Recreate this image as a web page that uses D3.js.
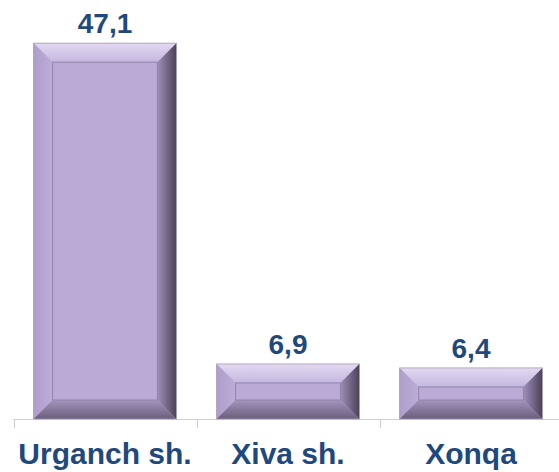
<!DOCTYPE html>
<html>
<head>
<meta charset="utf-8">
<script src="https://cdn.jsdelivr.net/npm/d3@7"></script>
<style>
  html, body { margin: 0; padding: 0; background: #fff; }
  text { font-family: "Liberation Sans", Arial, sans-serif; font-weight: bold; }
</style>
</head>
<body>
<div id="chart"></div>
<script>
var categories = ["Urganch sh.", "Xiva sh.", "Xonqa"];
var values = [47.1, 6.9, 6.4];
var valueLabels = ["47,1", "6,9", "6,4"];

var width = 559;
var height = 472;
var axisY = 419;
var bevel = 19;
var textColour = "#1F497D";

var svg = d3.select("#chart").append("svg")
  .attr("width", width)
  .attr("height", height);

var defs = svg.append("defs");

function grad(id, x1, y1, x2, y2, c1, c2) {
  var g = defs.append("linearGradient")
    .attr("id", id)
    .attr("x1", x1).attr("y1", y1)
    .attr("x2", x2).attr("y2", y2);
  g.append("stop").attr("offset", "0%").attr("stop-color", c1);
  g.append("stop").attr("offset", "100%").attr("stop-color", c2);
}

grad("bevTop", 0, 0, 0, 1, "#E2D9F1", "#C5B7E0");
grad("bevLeft", 0, 0, 1, 0, "#AE9ECB", "#BCACD7");
grad("bevRight", 0, 0, 1, 0, "#9F8FB9", "#4B4156");
grad("bevBottom", 0, 0, 0, 1, "#A394BD", "#6A5E7C");

var x = d3.scaleBand()
  .domain(categories)
  .range([13.5, 562.5])
  .paddingInner(0.22)
  .paddingOuter(0.11);

var y = d3.scaleLinear()
  .domain([0, 50])
  .range([axisY, 20]);

// axis line + ticks at the category boundaries
var gap = (x.step() - x.bandwidth()) / 2;
svg.append("line")
  .attr("x1", 13).attr("x2", width)
  .attr("y1", axisY + 0.5).attr("y2", axisY + 0.5)
  .attr("stroke", "#D0D0D0").attr("stroke-width", 1.2);

svg.selectAll(".tick")
  .data(categories)
  .enter()
  .append("line")
  .attr("class", "tick")
  .attr("x1", function (d) { return Math.round(x(d) - gap) + 0.5; })
  .attr("x2", function (d) { return Math.round(x(d) - gap) + 0.5; })
  .attr("y1", axisY)
  .attr("y2", axisY + 9)
  .attr("stroke", "#D0D0D0").attr("stroke-width", 1.2);

var data = categories.map(function (c, i) {
  return { name: c, value: values[i], label: valueLabels[i] };
});

var bar = svg.selectAll(".bar")
  .data(data)
  .enter()
  .append("g")
  .attr("class", "bar");

function pts(a) {
  return a.map(function (p) { return p.join(","); }).join(" ");
}

bar.each(function (d) {
  var g = d3.select(this);
  var x0 = x(d.name), x1 = x0 + x.bandwidth();
  var y0 = y(d.value), y1 = axisY;
  var b = Math.min(bevel, (y1 - y0) / 2 - 2);

  g.append("rect")
    .attr("x", x0).attr("y", y0)
    .attr("width", x1 - x0).attr("height", y1 - y0)
    .attr("fill", "#BBAAD6");

  g.append("polygon")
    .attr("points", pts([[x0, y0], [x1, y0], [x1 - b, y0 + b], [x0 + b, y0 + b]]))
    .attr("fill", "url(#bevTop)");
  g.append("polygon")
    .attr("points", pts([[x0, y0], [x0 + b, y0 + b], [x0 + b, y1 - b], [x0, y1]]))
    .attr("fill", "url(#bevLeft)");
  g.append("polygon")
    .attr("points", pts([[x1, y0], [x1, y1], [x1 - b, y1 - b], [x1 - b, y0 + b]]))
    .attr("fill", "url(#bevRight)");
  g.append("polygon")
    .attr("points", pts([[x0, y1], [x1, y1], [x1 - b, y1 - b], [x0 + b, y1 - b]]))
    .attr("fill", "url(#bevBottom)");

  // inner face
  g.append("rect")
    .attr("x", x0 + b).attr("y", y0 + b)
    .attr("width", x1 - x0 - 2 * b).attr("height", y1 - y0 - 2 * b)
    .attr("fill", "#BBAAD6")
    .attr("stroke", "#8E80A6").attr("stroke-width", 0.9);

  // outer edge
  g.append("rect")
    .attr("x", x0).attr("y", y0)
    .attr("width", x1 - x0).attr("height", y1 - y0)
    .attr("fill", "none")
    .attr("stroke", "#A79DB3").attr("stroke-width", 0.8);
});

bar.append("text")
  .attr("x", function (d) { return x(d.name) + x.bandwidth() / 2; })
  .attr("y", function (d) { return y(d.value) - 10; })
  .attr("text-anchor", "middle")
  .attr("font-size", 28)
  .attr("fill", textColour)
  .text(function (d) { return d.label; });

svg.selectAll(".cat")
  .data(categories)
  .enter()
  .append("text")
  .attr("class", "cat")
  .attr("x", function (d) { return x(d) + x.bandwidth() / 2; })
  .attr("y", 464)
  .attr("text-anchor", "middle")
  .attr("font-size", 30)
  .attr("fill", textColour)
  .text(function (d) { return d; });
</script>
</body>
</html>
